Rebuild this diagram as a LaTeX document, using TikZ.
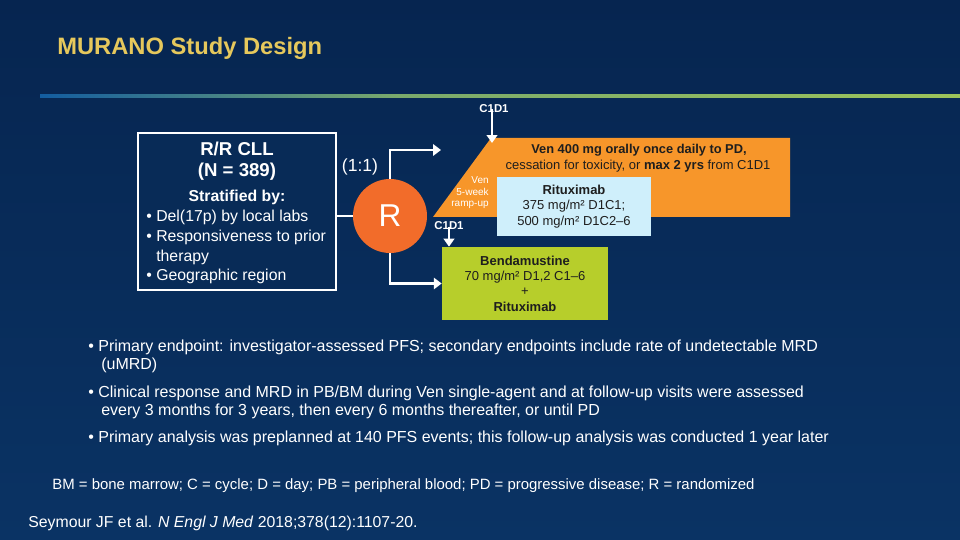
\documentclass[tikz,border=0pt]{standalone}
\usepackage{fontspec}
\setmainfont{Liberation Sans}
\usetikzlibrary{arrows.meta,positioning,calc}

\definecolor{bgtop}{HTML}{062550}
\definecolor{bgmid}{HTML}{135DA0}
\definecolor{bgbot}{HTML}{0A3364}
\definecolor{titlegold}{HTML}{E6C85C}
\definecolor{boxnavy}{HTML}{082B57}
\definecolor{rorange}{HTML}{F26C2A}
\definecolor{venorange}{HTML}{F7962A}
\definecolor{ritublue}{HTML}{CFEFFB}
\definecolor{bendgreen}{HTML}{B7CE2B}
\definecolor{linegreen}{HTML}{9CC35A}
\definecolor{darktext}{HTML}{1E1E1E}

\begin{document}
\begin{tikzpicture}
  [x=0.02cm,y=-0.02cm,
  % Styles
  plain text/.style={text=white,inner sep=0pt,anchor=base west,align=left},
  fork line/.style={draw=white,line width=1.7pt},
  fork arrow/.style={fork line,-{Triangle[length=4.5pt,width=6.5pt]}},
  day arrow/.style={draw=white,line width=1.4pt,-{Triangle[length=4.5pt,width=6pt]}},
  day text/.style={text=white,inner sep=0pt,anchor=base,font=\bfseries\fontsize{6.5}{7}\selectfont},
  arm box/.style={rectangle,inner sep=0pt,text=darktext,align=center,
    font=\fontsize{7.4}{8.7}\selectfont},
  bullet text/.style={plain text,font=\fontsize{9.1}{10.8}\selectfont}]
  % Background
  \fill[top color=bgtop,middle color=bgmid,bottom color=bgbot] (0,0) rectangle (960,540);
  \useasboundingbox (0,0) rectangle (960,540);
  \shade[left color=bgmid,right color=linegreen!75!bgmid] (40,94.5) rectangle (400,97.5);
  \shade[left color=linegreen!75!bgmid,right color=linegreen] (400,94.5) rectangle (960,97.5);
  \node[plain text,text=titlegold,font=\bfseries\fontsize{13.5}{16}\selectfont]
    (title) at (57,55) {MURANO Study Design};

  % Patients (base of a multi-line node = its last line)
  \node[draw=white,line width=0.9pt,fill=boxnavy,minimum width=3.96cm,minimum height=3.14cm]
    (patients) at (237,211.5) {};
  \node[plain text,anchor=base,align=center,font=\bfseries\fontsize{10.6}{12.5}\selectfont]
    (cll) at (237,177) {R/R CLL\\(N = 389)};
  \node[plain text,anchor=base,font=\bfseries\fontsize{9}{11}\selectfont]
    (strat) at (237,202) {Stratified by:};
  \node[plain text,font=\fontsize{9}{11.2}\selectfont] (factors) at (146,281)
    {• Del(17p) by local labs\\• Responsiveness to prior\\\phantom{• }therapy\\• Geographic region};

  % Randomization
  \node[circle,fill=rorange,minimum size=1.48cm,inner sep=0pt,text=white,
    font=\fontsize{18}{20}\selectfont] (rand) at (390,216) {R};
  \node[plain text,anchor=base,font=\fontsize{10}{12}\selectfont] (ratio) at (360,172) {(1:1)};
  \draw[fork line] (patients.east |- rand.west) -- (rand.west);

  % Venetoclax arm
  \fill[venorange] (433,217) -- (491,138) -- (790,138) -- (790,217) -- cycle;
  \coordinate (venin) at (441,150);
  \draw[fork arrow] (rand.north) |- (venin);
  \node[plain text,anchor=base,text=darktext,font=\bfseries\fontsize{7.3}{9}\selectfont]
    (ven) at (639,154) {Ven 400 mg orally once daily to PD,};
  \node[plain text,anchor=base,text=darktext,font=\fontsize{7.4}{9}\selectfont]
    (venstop) at (638,170) {cessation for toxicity, or \textbf{max 2 yrs} from C1D1};
  \node[plain text,anchor=base east,align=right,font=\fontsize{5.7}{6.8}\selectfont]
    (rampup) at (489,207) {Ven\\5-week\\ramp-up};
  \node[day text] (c1d1ven) at (494,113) {C1D1};
  \coordinate (venday) at (492,143);
  \draw[day arrow] (c1d1ven.south -| venday) ++(0,-4) -- (venday);
  \node[arm box,fill=ritublue,minimum width=3.08cm,minimum height=1.18cm]
    (ritux) at (574,206.5) {\textbf{Rituximab}\\375 mg/m² D1C1;\\500 mg/m² D1C2–6};

  % Bendamustine arm
  \node[arm box,fill=bendgreen,minimum width=3.32cm,minimum height=1.46cm]
    (bend) at (525,283.5) {\textbf{Bendamustine}\\70 mg/m² D1,2 C1–6\\+\\\textbf{Rituximab}};
  \draw[fork arrow] (rand.south) |- (bend.west);
  \node[day text] (c1d1bend) at (449,230) {C1D1};
  \draw[day arrow] (c1d1bend.south) ++(0,-3) -- (c1d1bend.south |- bend.north);

  % Notes
  \node[bullet text] (endpoint) at (88,370)
    {• Primary endpoint: investigator-assessed PFS; secondary endpoints include rate of undetectable MRD\\\hspace*{0.26cm}(uMRD)};
  \node[bullet text] (visits) at (88,416)
    {• Clinical response and MRD in PB/BM during Ven single-agent and at follow-up visits were assessed\\\hspace*{0.26cm}every 3 months for 3 years, then every 6 months thereafter, or until PD};
  \node[bullet text] (analysis) at (88,442)
    {• Primary analysis was preplanned at 140 PFS events; this follow-up analysis was conducted 1 year later};
  \node[plain text,font=\fontsize{8.5}{10}\selectfont] (abbrev) at (52,489)
    {BM = bone marrow; C = cycle; D = day; PB = peripheral blood; PD = progressive disease; R = randomized};
  \node[plain text,font=\fontsize{9}{10}\selectfont] (cite) at (28,527)
    {Seymour JF et al. \textit{N Engl J Med} 2018;378(12):1107-20.};
\end{tikzpicture}
\end{document}
